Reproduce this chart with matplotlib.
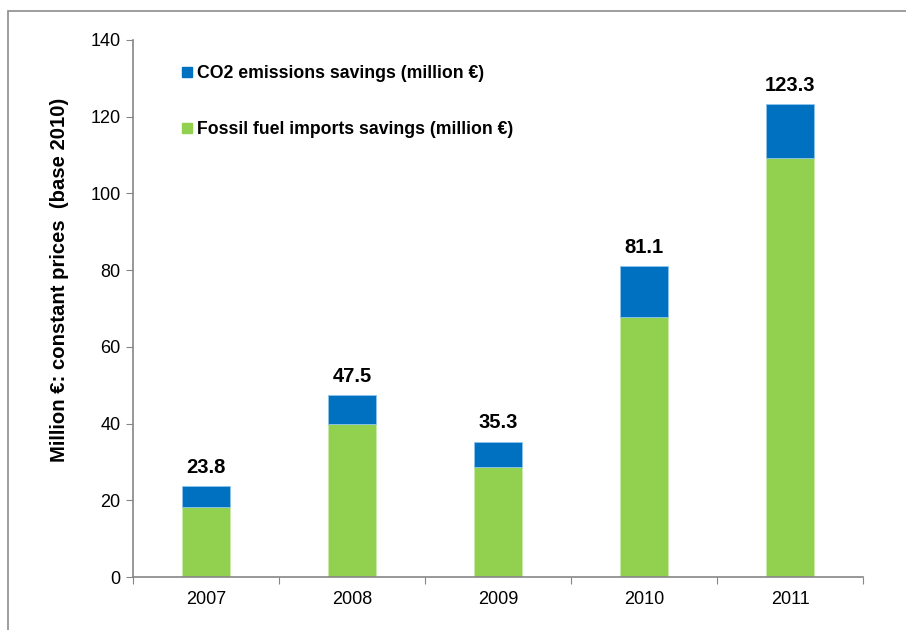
import matplotlib.pyplot as plt
from matplotlib.lines import Line2D
from matplotlib.patches import Rectangle

plt.rcParams['font.family'] = ['Liberation Sans', 'DejaVu Sans']

# Data
years = ['2007', '2008', '2009', '2010', '2011']
fossil = [18.2, 39.9, 28.7, 67.7, 109.2]
totals = [23.8, 47.5, 35.3, 81.1, 123.3]
co2 = [t - f for t, f in zip(totals, fossil)]

blue = '#0070C0'
green = '#92D050'
grey = '#868686'

fig = plt.figure(figsize=(9.06, 6.3), dpi=100)
# outer frame of the chart area
fig.patches.append(Rectangle((8 / 906, -0.1), 1.2, 1 - 11 / 630 + 0.1, transform=fig.transFigure,
                             fill=False, edgecolor='#8c8c8c', linewidth=1.2))
ax = fig.add_axes([133 / 906, 1 - 577 / 630, 730 / 906, 537 / 630])

x = range(len(years))
ax.bar(x, fossil, width=0.335, color=green, edgecolor='#c8eaa8', linewidth=0.6)
ax.bar(x, co2, bottom=fossil, width=0.335, color=blue, edgecolor='#8fc3ea', linewidth=0.6)

for i, t in enumerate(totals):
    ax.text(i, t + 2.4, f'{t:.1f}', ha='center', va='bottom', fontsize=14.5, fontweight='bold')

ax.set_xlim(-0.5, 4.5)
ax.set_ylim(0, 140)
ax.set_yticks(range(0, 141, 20))
ax.set_xticks([i - 0.5 for i in range(6)])
ax.set_xticklabels([])
ax.set_xticks(list(x), minor=True)
ax.set_xticklabels(years, minor=True)
ax.tick_params(axis='x', which='major', length=5, direction='out', color=grey)
ax.tick_params(axis='x', which='minor', length=0, pad=10, labelsize=13)
ax.tick_params(axis='y', length=5, direction='out', color=grey, labelsize=13, pad=4)

for side in ['top', 'right']:
    ax.spines[side].set_visible(False)
for side in ['left', 'bottom']:
    ax.spines[side].set_color(grey)
    ax.spines[side].set_linewidth(1.2)

ax.set_ylabel('Million €: constant prices  (base 2010)', fontsize=14.6, fontweight='bold')
ax.yaxis.set_label_coords(-0.088, 0.553)

handles = [Line2D([], [], marker='s', linestyle='', color=blue, markersize=7),
           Line2D([], [], marker='s', linestyle='', color=green, markersize=7)]
labels = ['CO2 emissions savings (million €)', 'Fossil fuel imports savings (million €)']
ax.legend(handles, labels, loc='upper left', bbox_to_anchor=(0.045, 0.983), frameon=False,
          handlelength=0.6, handletextpad=0.25, labelspacing=2.2,
          prop={'weight': 'bold', 'size': 12.7})

fig.savefig('out.png', dpi=100)
